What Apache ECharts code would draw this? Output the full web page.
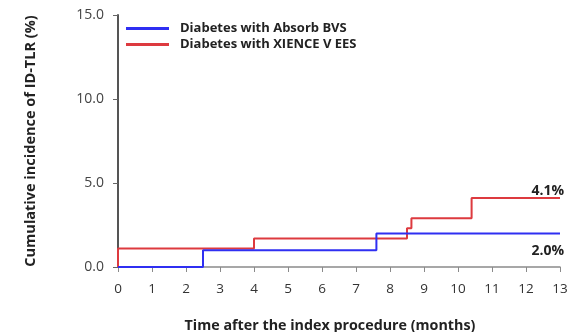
<!DOCTYPE html>
<html>
<head>
<meta charset="utf-8">
<script src="https://cdn.jsdelivr.net/npm/echarts@6/dist/echarts.min.js"></script>
<style>
  html, body { margin: 0; padding: 0; background: #fff; }
  #chart { width: 578px; height: 332px; }
</style>
</head>
<body>
<div id="chart"></div>
<script>
// Kaplan-Meier style step curves: [month, cumulative %] where each level holds until the next month
const seriesNames = ['Diabetes with Absorb BVS', 'Diabetes with XIENCE V EES'];
const absorbSteps = [[0, 0], [2.5, 1.0], [7.6, 2.0], [13, 2.0]];
const xienceSteps = [[0, 0], [0, 1.1], [4.0, 1.7], [8.5, 2.3], [8.63, 2.9], [10.4, 4.1], [13, 4.1]];
const xTicks = [0, 1, 2, 3, 4, 5, 6, 7, 8, 9, 10, 11, 12, 13];
const yTicks = [0, 5, 10, 15];
const endLabels = ['2.0%', '4.1%'];

const FONT = '"Open Sans", sans-serif';
const colors = ['#2f2ff2', '#dd3a3f'];

// only the last point of each curve carries its cumulative-rate label
function withEndLabel(steps, text, pos, offset) {
  return steps.map((p, i) => {
    if (i !== steps.length - 1) return p;
    return {
      value: p,
      label: {
        show: true, formatter: text, position: pos, align: 'right',
        offset: offset, fontFamily: FONT, fontWeight: 'bold', fontSize: 14, color: '#222'
      }
    };
  });
}

const chart = echarts.init(document.getElementById('chart'));
chart.setOption({
  animation: false,
  grid: { left: 118, right: 18, top: 15, bottom: 65, outerBoundsMode: 'none' },
  legend: {
    orient: 'vertical', left: 121, top: 17, itemGap: 3,
    itemWidth: 43, itemHeight: 3, icon: 'rect',
    textStyle: { fontFamily: FONT, fontWeight: 'bold', fontSize: 13, color: '#222', padding: [0, 0, 0, 6] },
    data: seriesNames
  },
  xAxis: {
    type: 'value', min: 0, max: 13, interval: 1,
    name: 'Time after the index procedure (months)', nameLocation: 'middle', nameGap: 52,
    nameTextStyle: { fontFamily: FONT, fontWeight: 'bold', fontSize: 14.3, color: '#222', padding: [0, 18, 0, 0] },
    axisLine: { show: true, lineStyle: { color: '#8a8a8a', width: 1.5 } },
    axisTick: { show: true, length: 5, lineStyle: { color: '#8a8a8a' } },
    axisLabel: {
      margin: 15, fontFamily: FONT, fontSize: 13.5, color: '#333',
      formatter: v => xTicks.includes(v) ? String(v) : ''
    },
    splitLine: { show: false }
  },
  yAxis: {
    type: 'value', min: 0, max: 15, interval: 5,
    name: 'Cumulative incidence of ID-TLR (%)', nameLocation: 'middle', nameGap: 80, nameRotate: 90,
    nameTextStyle: { fontFamily: FONT, fontWeight: 'bold', fontSize: 14.5, color: '#222' },
    axisLine: { show: true, lineStyle: { color: '#555', width: 2 } },
    axisTick: { show: true, length: 5, lineStyle: { color: '#666' } },
    axisLabel: {
      margin: 14, fontFamily: FONT, fontSize: 14, color: '#444', padding: [0, 0, 4, 0],
      formatter: v => yTicks.includes(v) ? v.toFixed(1) : ''
    },
    splitLine: { show: false }
  },
  series: [
    {
      name: seriesNames[1], type: 'line', step: 'end', showSymbol: true, symbol: 'circle', symbolSize: 0,
      color: colors[1], lineStyle: { width: 2, color: colors[1] },
      data: withEndLabel(xienceSteps, endLabels[1], 'top', [4, 5]), z: 2
    },
    {
      name: seriesNames[0], type: 'line', step: 'end', showSymbol: true, symbol: 'circle', symbolSize: 0,
      color: colors[0], lineStyle: { width: 2, color: colors[0] },
      data: withEndLabel(absorbSteps, endLabels[0], 'bottom', [4, 6]), z: 3
    }
  ]
});
</script>
</body>
</html>
